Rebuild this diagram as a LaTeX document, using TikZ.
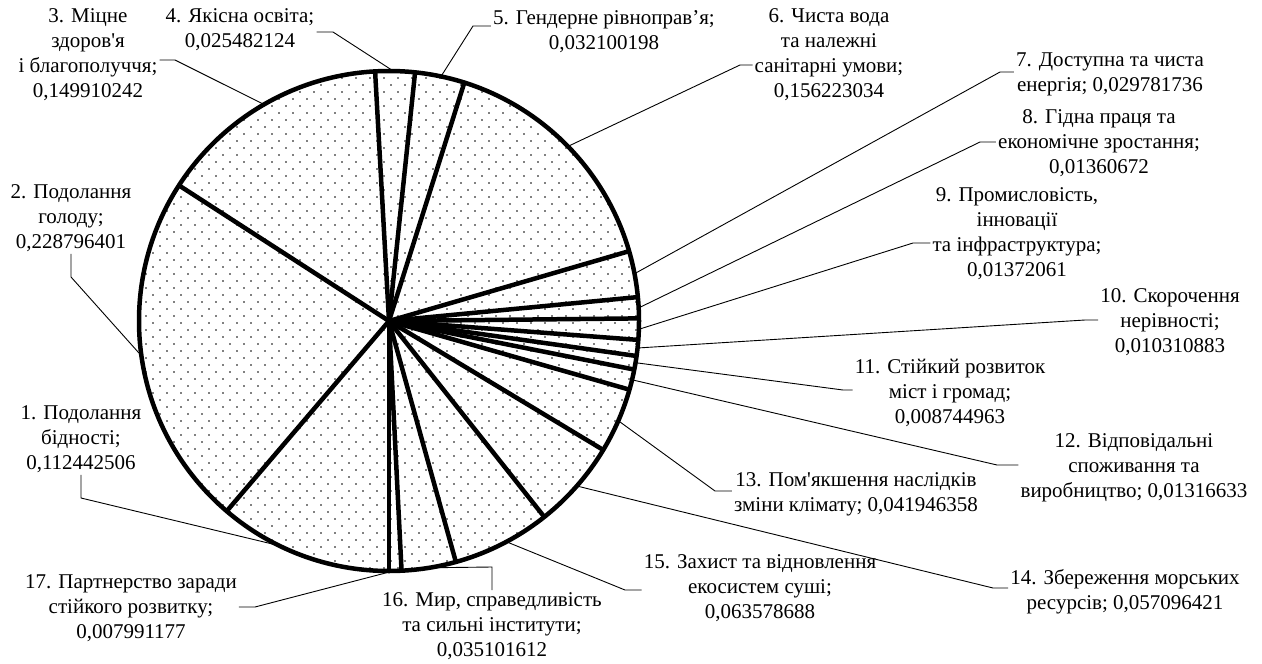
\documentclass[tikz,border=0pt]{standalone}
\usepackage{fontspec}
\newfontfamily\labfont{Liberation Serif}
\begin{document}
\begin{tikzpicture}[x=1pt,y=-1pt,
    secteur/.style={line width=4.5pt,line join=round},
    rappel/.style={line width=0.9pt},
    etiq/.style={font=\labfont\fontsize{21}{25}\selectfont,align=center,inner sep=2pt}]
    \useasboundingbox (0,0) rectangle (1262,664);
    % Centre du disque
    \coordinate (c) at (389,321);
    % Remplissage en points
    \begin{scope}
        \clip (c) circle (250pt);
        \foreach \j in {0,...,72} {
            \foreach \i in {0,...,36} {
                \fill ({139+14*\i+7*mod(\j,2)},{71+7*\j}) circle (0.85pt);}}
    \end{scope}
    % Rayons entre les secteurs
    \foreach \a in {90,130.48,212.85,266.81,275.99,287.54,343.78,354.51,359.40,
                    364.34,368.05,371.20,375.94,391.04,411.60,434.49,447.12}
        \draw[secteur] (c) -- ++(\a:250);
    % Bord du disque
    \draw[secteur] (c) circle (250pt);
    % Points de rappel sur le bord
    \foreach \n/\a in {1/116,2/172,3/240,4/271,5/282,6/315.7,7/349.1,8/357,9/1.9,
                       10/6.2,11/9.6,12/13.6,13/23.5,14/41.3,15/62,16/80.8,17/89}
        \path (c) ++(\a:250) coordinate (e\n);
    % Etiquettes
    \node[etiq] (t1) at (81,439) {1. Подолання\\бідності;\\0,112442506};
    \node[etiq] (t2) at (71,218) {2. Подолання\\голоду;\\0,228796401};
    \node[etiq] (t3) at (88,55) {3. Міцне\\здоров'я\\і благополуччя;\\0,149910242};
    \node[etiq] (t4) at (240,30) {4. Якісна освіта;\\0,025482124};
    \node[etiq] (t5) at (604,32) {5. Гендерне рівноправ’я;\\0,032100198};
    \node[etiq] (t6) at (829,55) {6. Чиста вода\\та належні\\санітарні умови;\\0,156223034};
    \node[etiq] (t7) at (1110,74) {7. Доступна та чиста\\енергія; 0,029781736};
    \node[etiq] (t8) at (1099,143) {8. Гідна праця та\\економічне зростання;\\0,01360672};
    \node[etiq] (t9) at (1017,234) {9. Промисловість,\\інновації\\та інфраструктура;\\0,01372061};
    \node[etiq] (t10) at (1170,322) {10. Скорочення\\нерівності;\\0,010310883};
    \node[etiq] (t11) at (950,393) {11. Стійкий розвиток\\міст і громад;\\0,008744963};
    \node[etiq] (t12) at (1134,468) {12. Відповідальні\\споживання та\\виробництво; 0,01316633};
    \node[etiq] (t13) at (856,494) {13. Пом'якшення наслідків\\зміни клімату; 0,041946358};
    \node[etiq] (t14) at (1125,592) {14. Збереження морських\\ресурсів; 0,057096421};
    \node[etiq] (t15) at (760,588) {15. Захист та відновлення\\екосистем суші;\\0,063578688};
    \node[etiq] (t16) at (492,626) {16. Мир, справедливість\\та сильні інститути;\\0,035101612};
    \node[etiq] (t17) at (131,608) {17. Партнерство заради\\стійкого розвитку;\\0,007991177};
    % Coudes des lignes de rappel
    \coordinate (k1) at (81,498);
    \coordinate (k2) at (71,277);
    \coordinate (k3) at (175,60);
    \coordinate (k4) at (333,32);
    \coordinate (k5) at (473,26);
    \coordinate (k6) at (740,65);
    \coordinate (k7) at (1000,72);
    \coordinate (k8) at (980,142);
    \coordinate (k9) at (913,243);
    \coordinate (k10) at (1085,320);
    \coordinate (k11) at (843,390);
    \coordinate (k12) at (997,465);
    \coordinate (k13) at (715,491);
    \coordinate (k14) at (993,588);
    \coordinate (k15) at (625,590);
    \coordinate (k16) at (492,567);
    \coordinate (k17) at (255,607);
    % Lignes de rappel
    \draw[rappel] (e1) -- (k1) -- (k1 |- t1.south);
    \draw[rappel] (e2) -- (k2) -- (k2 |- t2.south);
    \draw[rappel] (e3) -- (k3) -- (k3 -| t3.east);
    \draw[rappel] (e4) -- (k4) -- (k4 -| t4.east);
    \draw[rappel] (e16) -- (k16) -- (k16 |- t16.north);
    \draw[rappel] (e17) -- (k17) -- (k17 -| t17.east);
    \foreach \n in {5,...,15}
        \draw[rappel] (e\n) -- (k\n) -- (k\n -| t\n.west);
\end{tikzpicture}
\end{document}
